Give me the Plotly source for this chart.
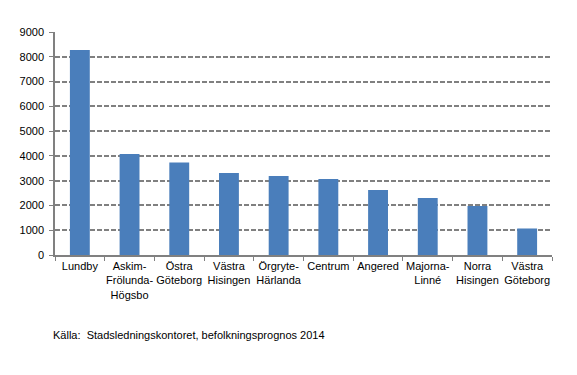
import plotly.graph_objects as go

categories = ["Lundby", "Askim-<br>Frölunda-<br>Högsbo", "Östra<br>Göteborg", "Västra<br>Hisingen",
              "Örgryte-<br>Härlanda", "Centrum", "Angered", "Majorna-<br>Linné", "Norra<br>Hisingen",
              "Västra<br>Göteborg"]
values = [8270, 4080, 3730, 3310, 3190, 3070, 2620, 2300, 1980, 1070]
y_ticks = [0, 1000, 2000, 3000, 4000, 5000, 6000, 7000, 8000, 9000]
source = "Källa:  Stadsledningskontoret, befolkningsprognos 2014"

font = dict(family="Liberation Sans, Arial, sans-serif", size=11, color="#000000")

# page body has an 8px margin; figure sized to fit the 577x375 window
L, R, T, B = 43, 25, 24, 120
W, H = 569, 367
plot_h = H - T - B
plot_w = W - L - R

fig = go.Figure(go.Bar(x=categories, y=values, marker=dict(color="#4A7EBB", line=dict(width=0))))

fig.update_layout(
    width=W, height=H,
    margin=dict(l=L, r=R, t=T, b=B),
    paper_bgcolor="white", plot_bgcolor="white",
    bargap=0.6, showlegend=False, font=font,
    xaxis=dict(showline=True, linecolor="#808080", linewidth=1.5, ticks="outside",
               tickson="boundaries", ticklen=4, tickcolor="#808080", tickwidth=1,
               showgrid=False, tickangle=0, tickfont=font),
    yaxis=dict(range=[0, 9000], tickvals=y_ticks, ticks="outside", ticklen=4,
               tickcolor="#808080", showline=True, linecolor="#808080", linewidth=1.5,
               showgrid=True, gridcolor="#808080", gridwidth=2, griddash="5px,2px",
               zeroline=False, tickfont=font, ticklabelstandoff=3),
    annotations=[dict(text=source, x=-4 / plot_w, y=1 - (327 - T) / plot_h, xref="paper", yref="paper",
                      showarrow=False, xanchor="left", yanchor="middle", font=font)],
)
fig.write_html("out.html")
